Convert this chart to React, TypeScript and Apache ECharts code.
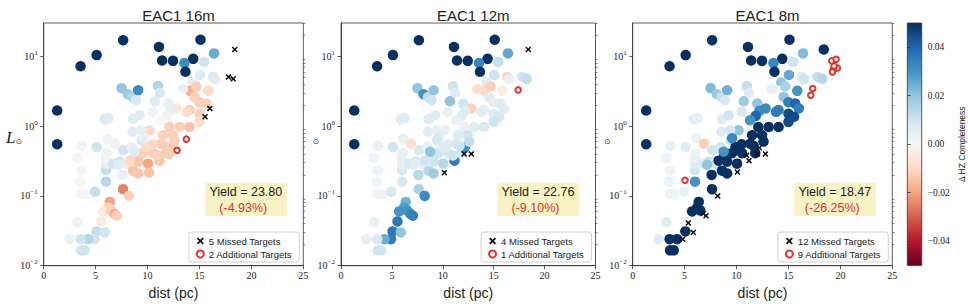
import { useEffect, useRef } from "react";
import * as echarts from "echarts";

// Telescope designs shown side by side
const designNames = ["EAC1 16m", "EAC1 12m", "EAC1 8m"];
const yieldValues = ["23.80", "22.76", "18.47"];
const yieldChanges = ["(-4.93%)", "(-9.10%)", "(-26.25%)"];

// Target stars: dist (pc), luminosity (L☉), Δ HZ completeness for 16m / 12m / 8m
// (null where the star is not observed by that design)
const stars: (number | null)[][] = [
  [7.65, 17.0, 0.05, 0.05, 0.05],
  [5.1, 10.4, 0.05, 0.05, 0.05],
  [3.55, 7.2, 0.05, 0.05, 0.05],
  [11.1, 13.6, 0.05, 0.05, 0.05],
  [15.1, 17.3, 0.05, 0.05, 0.05],
  [11.4, 8.7, 0.05, 0.05, 0.05],
  [12.45, 8.6, 0.05, 0.05, 0.05],
  [14.4, 9.2, 0.05, 0.05, 0.05],
  [13.55, 8.0, 0.032, 0.033, 0.033],
  [13.65, 6.0, 0.05, 0.05, 0.05],
  [1.3, 1.67, 0.05, 0.05, 0.05],
  [1.3, 0.55, 0.05, 0.05, 0.05],
  [16.4, 11.0, 0.025, 0.026, 0.022],
  [18.4, 12.5, null, null, 0.05],
  [15.45, 8.3, 0.01, 0.012, 0.01],
  [15.05, 5.4, 0.006, 0.01, 0.026],
  [16.3, 5.1, 0.008, -0.01, 0.006],
  [16.5, 4.7, 0.006, 0.004, 0.01],
  [17.8, 5.06, null, 0.01, 0.012],
  [18.25, 4.75, null, 0.012, 0.014],
  [14.3, 4.2, 0.004, 0.006, 0.02],
  [14.1, 3.2, -0.018, -0.01, 0.0],
  [14.7, 3.7, -0.012, -0.012, 0.016],
  [13.4, 3.4, 0.004, -0.008, 0.004],
  [15.85, 3.2, -0.01, -0.004, 0.03],
  [14.55, 2.6, -0.012, 0.006, 0.02],
  [15.0, 2.2, -0.012, 0.004, 0.035],
  [15.65, 2.1, -0.012, 0.006, 0.04],
  [14.05, 1.7, -0.012, 0.004, 0.035],
  [15.0, 1.5, -0.012, 0.006, 0.045],
  [16.0, 1.79, null, 0.006, 0.035],
  [15.54, 1.36, null, 0.008, 0.045],
  [7.5, 3.5, 0.02, 0.02, 0.022],
  [8.1, 2.86, 0.018, 0.03, 0.018],
  [8.55, 2.6, 0.015, 0.012, 0.012],
  [9.1, 3.27, 0.032, 0.02, 0.024],
  [8.9, 2.35, 0.008, 0.01, 0.008],
  [11.0, 3.76, 0.015, 0.01, 0.012],
  [11.2, 3.0, 0.008, 0.006, 0.006],
  [10.7, 2.27, 0.006, 0.02, 0.018],
  [12.0, 2.1, 0.004, 0.01, 0.02],
  [12.8, 1.79, -0.006, -0.012, 0.032],
  [12.2, 1.65, 0.004, 0.006, 0.032],
  [13.8, 1.6, -0.01, 0.006, 0.035],
  [11.85, 1.4, 0.002, 0.006, 0.04],
  [10.5, 1.6, 0.002, 0.004, 0.008],
  [11.3, 1.21, 0.0, 0.004, 0.03],
  [12.1, 0.97, -0.012, 0.004, 0.05],
  [13.1, 0.97, -0.012, 0.006, 0.05],
  [14.05, 0.97, -0.014, 0.008, 0.05],
  [15.0, 1.15, -0.01, 0.01, 0.045],
  [10.2, 0.87, -0.01, 0.004, 0.02],
  [11.5, 0.74, -0.012, 0.006, 0.05],
  [12.45, 0.74, -0.012, 0.01, 0.05],
  [5.9, 1.25, 0.008, 0.006, 0.006],
  [6.25, 1.3, 0.006, 0.006, 0.004],
  [8.6, 1.26, 0.006, 0.006, 0.006],
  [9.25, 1.43, 0.006, 0.006, 0.01],
  [8.55, 0.83, 0.006, 0.006, 0.006],
  [9.4, 0.87, 0.004, 0.004, 0.008],
  [3.65, 0.52, 0.002, 0.004, 0.004],
  [5.1, 0.5, 0.01, 0.01, 0.006],
  [6.07, 0.41, 0.002, 0.004, 0.002],
  [3.24, 0.35, 0.001, 0.002, 0.002],
  [3.6, 0.23, 0.001, 0.002, 0.002],
  [3.5, 0.16, 0.001, 0.002, 0.003],
  [3.6, 0.107, 0.001, 0.002, 0.003],
  [4.0, 0.105, 0.001, 0.002, 0.002],
  [4.94, 0.115, 0.012, 0.008, 0.004],
  [6.0, 0.16, 0.014, 0.008, 0.03],
  [6.0, 0.235, 0.012, 0.008, 0.01],
  [6.0, 0.29, 0.004, 0.004, 0.006],
  [6.0, 0.35, 0.002, 0.004, 0.004],
  [6.13, 0.66, 0.002, 0.004, 0.004],
  [6.87, 0.56, 0.002, -0.008, -0.012],
  [7.67, 0.45, 0.01, 0.008, 0.01],
  [6.7, 0.29, 0.01, 0.008, 0.006],
  [7.35, 0.31, 0.01, 0.008, 0.01],
  [8.0, 0.29, 0.004, 0.004, 0.01],
  [7.6, 0.2, 0.004, 0.014, 0.05],
  [8.48, 0.5, 0.004, 0.004, 0.01],
  [8.8, 0.41, 0.01, 0.006, 0.05],
  [9.44, 0.63, 0.01, 0.008, 0.012],
  [8.6, 0.23, -0.014, 0.014, 0.05],
  [9.09, 0.21, -0.014, 0.018, 0.05],
  [9.09, 0.31, -0.014, 0.01, 0.05],
  [10.05, 0.29, -0.02, 0.014, 0.05],
  [10.15, 0.215, -0.014, null, null],
  [9.57, 0.41, -0.012, 0.01, 0.05],
  [10.53, 0.41, -0.012, 0.008, 0.05],
  [11.15, 0.32, -0.014, 0.035, null],
  [11.0, 0.38, -0.012, 0.01, null],
  [11.8, 0.41, -0.012, 0.01, 0.05],
  [12.1, 0.4, -0.012, null, null],
  [12.15, 0.49, -0.012, 0.032, null],
  [8.28, 0.32, -0.01, 0.01, 0.05],
  [10.5, 0.55, -0.01, 0.006, 0.05],
  [11.3, 0.56, -0.012, 0.008, 0.05],
  [9.9, 0.5, -0.01, 0.006, 0.05],
  [11.65, 0.52, -0.012, 0.01, 0.05],
  [12.6, 0.6, -0.012, 0.012, 0.05],
  [9.57, 0.67, 0.004, 0.008, 0.032],
  [8.76, 0.43, 0.006, 0.02, 0.03],
  [7.16, 0.28, 0.006, 0.006, 0.02],
  [7.64, 0.125, -0.025, 0.016, 0.05],
  [8.22, 0.1, -0.012, 0.032, null],
  [6.36, 0.082, -0.02, 0.024, 0.05],
  [6.2, 0.068, -0.012, 0.028, 0.05],
  [5.72, 0.06, -0.005, 0.03, 0.05],
  [6.5, 0.062, -0.012, 0.03, 0.05],
  [6.84, 0.055, -0.018, 0.032, null],
  [7.06, 0.052, -0.012, 0.034, null],
  [5.55, 0.043, -0.005, 0.036, null],
  [5.07, 0.031, 0.012, 0.036, 0.05],
  [5.88, 0.03, 0.01, 0.02, null],
  [4.91, 0.024, 0.01, 0.035, null],
  [4.27, 0.024, 0.015, 0.025, 0.05],
  [3.56, 0.024, 0.01, 0.008, 0.05],
  [2.5, 0.024, 0.004, 0.004, 0.006],
  [3.24, 0.042, 0.003, 0.004, 0.006],
  [3.6, 0.0166, 0.01, 0.01, 0.05],
  [3.95, 0.0166, 0.01, 0.01, 0.05],
];

// Targets dropped relative to the baseline, per design
const missed16 = [[18.4, 12.5], [17.8, 5.06], [18.25, 4.75], [16.0, 1.79], [15.54, 1.36]];
const missed12 = [[18.4, 12.5], [10.15, 0.215], [12.1, 0.4], [12.8, 0.4]];
const missed8 = [
  [12.2, 0.49], [12.0, 0.4], [12.78, 0.4], [10.98, 0.38], [11.2, 0.32], [10.08, 0.22],
  [8.19, 0.1], [6.8, 0.056], [7.06, 0.052], [5.36, 0.041], [5.84, 0.03], [4.82, 0.024],
];

// Targets gained relative to the baseline, per design
const added16 = [[13.74, 0.65], [12.85, 0.45]];
const added12 = [[17.4, 3.3]];
const added8 = [
  [19.17, 8.6], [19.59, 9.06], [19.71, 6.8], [19.33, 6.45], [19.23, 5.96], [19.39, 7.26],
  [17.34, 3.45], [17.15, 2.77], [5.04, 0.167],
];

const missedSets = [missed16, missed12, missed8];
const addedSets = [added16, added12, added8];

const lumTicks = [0.01, 0.1, 1, 10];
const cbarTicks = [-0.04, -0.02, 0, 0.02, 0.04];

const RDBU = [
  "#67001f", "#b2182b", "#d6604d", "#f4a582", "#fddbc7", "#f7f7f7",
  "#d1e5f0", "#92c5de", "#4393c3", "#2166ac", "#053061",
];

const X_MARK =
  "path://M1.8,0L5,3.2L8.2,0L10,1.8L6.8,5L10,8.2L8.2,10L5,6.8L1.8,10L0,8.2L3.2,5L0,1.8Z";

const PANELS = [
  { left: 43.7, width: 259.6 },
  { left: 341, width: 254.5 },
  { left: 632.7, width: 259.6 },
];
const TOP = 23;
const HEIGHT = 242.7;
const CBAR = { left: 907.3, width: 14.4 };

const SERIF = "'Liberation Serif', 'DejaVu Serif', serif";
const SANS = "'Liberation Sans', 'DejaVu Sans', sans-serif";
const AXIS_COLOR = "#333";
const RED = "#e3342f";

const minorLum: number[] = [];
for (let e = -2; e <= 1; e++) {
  for (let k = 2; k <= 9; k++) {
    const v = k * Math.pow(10, e);
    if (v <= 30) minorLum.push(Number(v.toPrecision(3)));
  }
}

const supLabel = (v: number) => {
  const e = Math.round(Math.log10(v));
  return "10{s|" + (e < 0 ? "\u2212" + -e : String(e)) + "}";
};

export default function App() {
  const ref = useRef<HTMLDivElement>(null);

  useEffect(() => {
    if (!ref.current) return;
    const chart = echarts.init(ref.current, undefined, { renderer: "svg" });

    const grids: any[] = PANELS.map((p) => ({
      left: p.left,
      top: TOP,
      width: p.width,
      height: HEIGHT,
      show: true,
      borderColor: AXIS_COLOR,
      borderWidth: 0.8,
      backgroundColor: "transparent",
    }));
    grids.push({ left: CBAR.left, top: TOP, width: CBAR.width, height: HEIGHT - 0.3, show: false });

    const xAxes: any[] = PANELS.map((_, i) => ({
      type: "value",
      gridIndex: i,
      min: 0,
      max: 25,
      interval: 5,
      name: "dist (pc)",
      nameLocation: "middle",
      nameGap: 12,
      nameTextStyle: { fontSize: 14, fontFamily: SANS, color: "#222", verticalAlign: "top" },
      axisLine: { show: true, lineStyle: { color: AXIS_COLOR, width: 0.8 } },
      axisTick: { show: true, length: 3.5, lineStyle: { color: AXIS_COLOR, width: 0.8 } },
      axisLabel: { fontSize: 10, fontFamily: SERIF, color: "#222", margin: 5 },
      splitLine: { show: false },
    }));
    xAxes.push({ type: "value", gridIndex: 3, show: false, min: 0, max: 1 });

    const yAxes: any[] = [];
    PANELS.forEach((_, i) => {
      yAxes.push({
        type: "log",
        logBase: 10,
        gridIndex: i,
        min: 0.01,
        max: 30,
        axisLine: { show: true, lineStyle: { color: AXIS_COLOR, width: 0.8 } },
        axisTick: {
          show: true,
          length: 3.5,
          customValues: lumTicks,
          lineStyle: { color: AXIS_COLOR, width: 0.8 },
        },
        axisLabel: {
          customValues: lumTicks,
          formatter: supLabel,
          fontSize: 10,
          fontFamily: SERIF,
          color: "#222",
          margin: 6,
          rich: { s: { fontSize: 7, fontFamily: SERIF, color: "#222", padding: [0, 0, 7, 0] } },
        },
        splitLine: { show: false },
      });
    });
    PANELS.forEach((_, i) => {
      yAxes.push({
        type: "log",
        logBase: 10,
        gridIndex: i,
        min: 0.01,
        max: 30,
        axisLine: { show: false },
        axisTick: {
          show: true,
          length: 2,
          customValues: minorLum,
          lineStyle: { color: AXIS_COLOR, width: 0.6 },
        },
        axisLabel: { show: false },
        splitLine: { show: false },
      });
    });
    yAxes.push({
      type: "value",
      gridIndex: 3,
      min: -0.05,
      max: 0.05,
      position: "right",
      name: "\u0394 HZ Completeness",
      nameLocation: "middle",
      nameRotate: 90,
      nameGap: 36,
      nameTextStyle: { fontSize: 8.5, fontFamily: SANS, color: "#222" },
      axisLine: { show: false },
      axisTick: { show: true, length: 3.5, customValues: cbarTicks, lineStyle: { color: AXIS_COLOR, width: 0.8 } },
      axisLabel: {
        customValues: cbarTicks,
        fontSize: 9.5,
        fontFamily: SERIF,
        color: "#222",
        margin: 6,
        formatter: (v: number) => (v < 0 ? "\u2212" : "") + Math.abs(v).toFixed(2),
      },
      splitLine: { show: false },
    });

    const series: any[] = [];
    PANELS.forEach((_, i) => {
      series.push({
        type: "scatter",
        name: designNames[i],
        xAxisIndex: i,
        yAxisIndex: i,
        symbol: "circle",
        symbolSize: 10.5,
        z: 2,
        itemStyle: { opacity: 1 },
        data: stars.filter((s) => s[2 + i] !== null).map((s) => [s[0], s[1], s[2 + i]]),
      });
    });
    PANELS.forEach((_, i) => {
      series.push({
        type: "scatter",
        name: `${missedSets[i].length} Missed Targets`,
        xAxisIndex: i,
        yAxisIndex: i,
        symbol: X_MARK,
        symbolSize: 6,
        z: 4,
        itemStyle: { color: "#111", opacity: 1 },
        data: missedSets[i],
      });
    });
    PANELS.forEach((_, i) => {
      series.push({
        type: "scatter",
        name: `${addedSets[i].length} Additional Targets`,
        xAxisIndex: i,
        yAxisIndex: i,
        symbol: "emptyCircle",
        symbolSize: 5.5,
        z: 4,
        itemStyle: { color: RED, borderColor: RED, borderWidth: 1, opacity: 1 },
        data: addedSets[i],
      });
    });

    const legends = PANELS.map((p, i) => ({
      orient: "vertical",
      right: 968 - (p.left + p.width) + 4,
      top: 232,
      backgroundColor: "#fff",
      borderColor: "#d0d0d0",
      borderWidth: 1,
      borderRadius: 3,
      padding: [4, 7, 3, 7],
      itemGap: 3,
      itemWidth: 7,
      itemHeight: 7,
      selectedMode: false,
      textStyle: { fontSize: 9.5, fontFamily: SANS, color: "#222" },
      data: [`${missedSets[i].length} Missed Targets`, `${addedSets[i].length} Additional Targets`],
    }));

    const titles = PANELS.map((p, i) => ({
      text: designNames[i],
      left: p.left + p.width / 2,
      top: 3,
      textAlign: "center",
      textStyle: { fontSize: 15, fontWeight: "normal", fontFamily: SANS, color: "#222" },
    }));

    const graphics: any[] = [];
    PANELS.forEach((p, i) => {
      const bx = p.left + p.width - 98;
      graphics.push({
        type: "rect",
        shape: { x: bx, y: 182.7, width: 81.5, height: 33.3 },
        style: { fill: "#f8f2c4", stroke: "none" },
        z: 10,
      });
      graphics.push({
        type: "text",
        x: bx + 40.5,
        y: 192,
        z: 11,
        style: {
          text: "Yield = " + yieldValues[i],
          fontSize: 12.5,
          fontFamily: SANS,
          fill: "#222",
          align: "center",
          verticalAlign: "middle",
        },
      });
      graphics.push({
        type: "text",
        x: bx + 38,
        y: 208,
        z: 11,
        style: {
          text: yieldChanges[i],
          fontSize: 12.5,
          fontFamily: SANS,
          fill: RED,
          align: "center",
          verticalAlign: "middle",
        },
      });
    });
    // y-axis label: only the first panel shows the full L☉, the others keep the ☉ subscript
    graphics.push({
      type: "text",
      x: 6,
      y: 137,
      style: { text: "L", fontSize: 17, fontStyle: "italic", fontFamily: SERIF, fill: "#222", verticalAlign: "middle" },
    });
    [19, 316, 607.5].forEach((x) => {
      graphics.push({
        type: "text",
        x,
        y: 141,
        style: { text: "\u2299", fontSize: 7.5, fontFamily: "'DejaVu Sans', sans-serif", fill: "#222", align: "center", verticalAlign: "middle" },
      });
    });
    // colorbar
    graphics.push({
      type: "rect",
      shape: { x: CBAR.left, y: TOP, width: CBAR.width, height: HEIGHT - 0.3 },
      style: {
        fill: new echarts.graphic.LinearGradient(
          0, 1, 0, 0,
          RDBU.map((c, k) => ({ offset: k / (RDBU.length - 1), color: c }))
        ),
        stroke: AXIS_COLOR,
        lineWidth: 0.8,
      },
    });

    chart.setOption({
      animation: false,
      backgroundColor: "#fff",
      title: titles,
      grid: grids,
      xAxis: xAxes,
      yAxis: yAxes,
      legend: legends,
      visualMap: {
        type: "continuous",
        show: false,
        min: -0.05,
        max: 0.05,
        dimension: 2,
        seriesIndex: [0, 1, 2],
        inRange: { color: RDBU },
      },
      series,
      graphic: { elements: graphics },
    });

    return () => chart.dispose();
  }, []);

  return (
    <div
      ref={ref}
      style={{ position: "fixed", left: 0, top: 0, width: 968, height: 305, background: "#fff" }}
    />
  );
}
